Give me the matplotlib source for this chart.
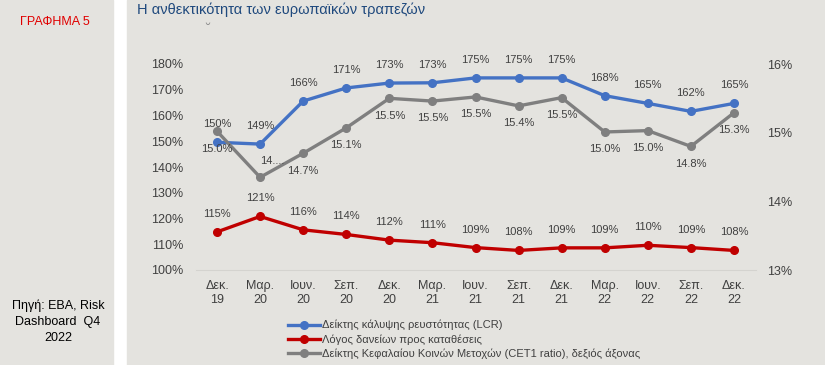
import matplotlib
matplotlib.use("Agg")
import matplotlib.pyplot as plt
from matplotlib.patches import Rectangle
import numpy as np

plt.rcParams['font.family'] = ['Liberation Sans', 'DejaVu Sans']

# data
periods = ["Δεκ.\n19", "Μαρ.\n20", "Ιουν.\n20", "Σεπ.\n20", "Δεκ.\n20", "Μαρ.\n21", "Ιουν.\n21",
           "Σεπ.\n21", "Δεκ.\n21", "Μαρ.\n22", "Ιουν.\n22", "Σεπ.\n22", "Δεκ.\n22"]
lcr = [149.6, 148.9, 165.6, 170.7, 172.6, 172.7, 174.6, 174.6, 174.6, 167.7, 164.7, 161.6, 164.7]
loans_dep = [114.8, 120.8, 115.6, 113.8, 111.6, 110.6, 108.7, 107.6, 108.6, 108.6, 109.6, 108.7, 107.6]
cet1 = [15.02, 14.35, 14.70, 15.07, 15.50, 15.46, 15.52, 15.39, 15.51, 15.01, 15.03, 14.80, 15.29]
cet1_labels = ["15.0%", "14....", "14.7%", "15.1%", "15.5%", "15.5%", "15.5%",
               "15.4%", "15.5%", "15.0%", "15.0%", "14.8%", "15.3%"]
left_ticks = [100, 110, 120, 130, 140, 150, 160, 170, 180]
right_ticks = [13, 14, 15, 16]

names = ["Δείκτης κάλυψης ρευστότητας (LCR)",
         "Λόγος δανείων προς καταθέσεις",
         "Δείκτης Κεφαλαίου Κοινών Μετοχών (CET1 ratio), δεξιός άξονας"]
c_blue, c_red, c_gray = "#4472c4", "#c00000", "#7f7f7f"
bg = "#e4e3df"
txt = "#404040"

W, H = 825, 365
fig = plt.figure(figsize=(W / 100, H / 100), dpi=100, facecolor="white")

# background panels
fig.patches.append(Rectangle((0, 0), 113 / W, 1, transform=fig.transFigure, color=bg, zorder=-5))
fig.patches.append(Rectangle((127 / W, 0), 1 - 127 / W, 1, transform=fig.transFigure, color=bg, zorder=-5))

fig.text(55 / W, 1 - 22 / H, "ΓΡΑΦΗΜΑ 5", color="#e00000", fontsize=9, ha="center", va="center")
fig.text(58 / W, 1 - 322 / H, "Πηγή: EBA, Risk\nDashboard  Q4\n2022", color="black", fontsize=9,
         ha="center", va="center", linespacing=1.45)
fig.text(137 / W, 1 - 10 / H, "Η ανθεκτικότητα των ευρωπαϊκών τραπεζών", color="#1f497d",
         fontsize=10.5, ha="left", va="center")
fig.text(208 / W, 1 - 30 / H, "˘", color="#8a8a8a", fontsize=10, ha="center", va="center")

ax = fig.add_axes([195.5 / W, 1 - 270 / H, 560 / W, 206 / H])
ax.set_facecolor("none")
ax2 = ax.twinx()
x = np.arange(len(periods))

l1, = ax.plot(x, lcr, color=c_blue, lw=2.4, marker="o", ms=5.5, zorder=4)
l2, = ax.plot(x, loans_dep, color=c_red, lw=2.4, marker="o", ms=5.5, zorder=4)
l3, = ax2.plot(x, cet1, color=c_gray, lw=2.4, marker="o", ms=5.5, zorder=3)

ax.set_xlim(-0.5, len(periods) - 0.5)
ax.set_ylim(100, 180)
ax2.set_ylim(13, 16)
ax.set_yticks(left_ticks)
ax.set_yticklabels(["%d%%" % v for v in left_ticks])
ax2.set_yticks(right_ticks)
ax2.set_yticklabels(["%d%%" % v for v in right_ticks])
ax.set_xticks(x)
ax.set_xticklabels(periods)

for a in (ax, ax2):
    for s in a.spines.values():
        s.set_visible(False)
ax.spines["bottom"].set_visible(True)
ax.spines["bottom"].set_color("#d4d3cf")
ax.tick_params(axis="y", length=0, pad=9, labelsize=9, labelcolor=txt)
ax2.tick_params(axis="y", length=0, pad=8.5, labelsize=9, labelcolor=txt)
ax.tick_params(axis="x", length=0, pad=7, labelsize=9, labelcolor=txt)

for i in x:
    ax.annotate("%.0f%%" % lcr[i], (i, lcr[i]), xytext=(0, 13), textcoords="offset points",
                ha="center", va="center", fontsize=8, color=txt, annotation_clip=False)
    ax.annotate("%.0f%%" % loans_dep[i], (i, loans_dep[i]), xytext=(0, 13), textcoords="offset points",
                ha="center", va="center", fontsize=8, color=txt, annotation_clip=False)
    off = (9, 12) if i == 1 else (0, -12.5)
    ax2.annotate(cet1_labels[i], (i, cet1[i]), xytext=off, textcoords="offset points",
                 ha="center", va="center", fontsize=8, color=txt, annotation_clip=False)

fig.legend([l1, l2, l3], names, loc="upper left", bbox_to_anchor=(288 / W, 1 - 320 / H),
           frameon=False, fontsize=8, handlelength=2.9, handletextpad=0.15, labelspacing=0.35,
           borderpad=0, borderaxespad=0, labelcolor=txt)

fig.savefig("out.png", dpi=100, facecolor="white")
